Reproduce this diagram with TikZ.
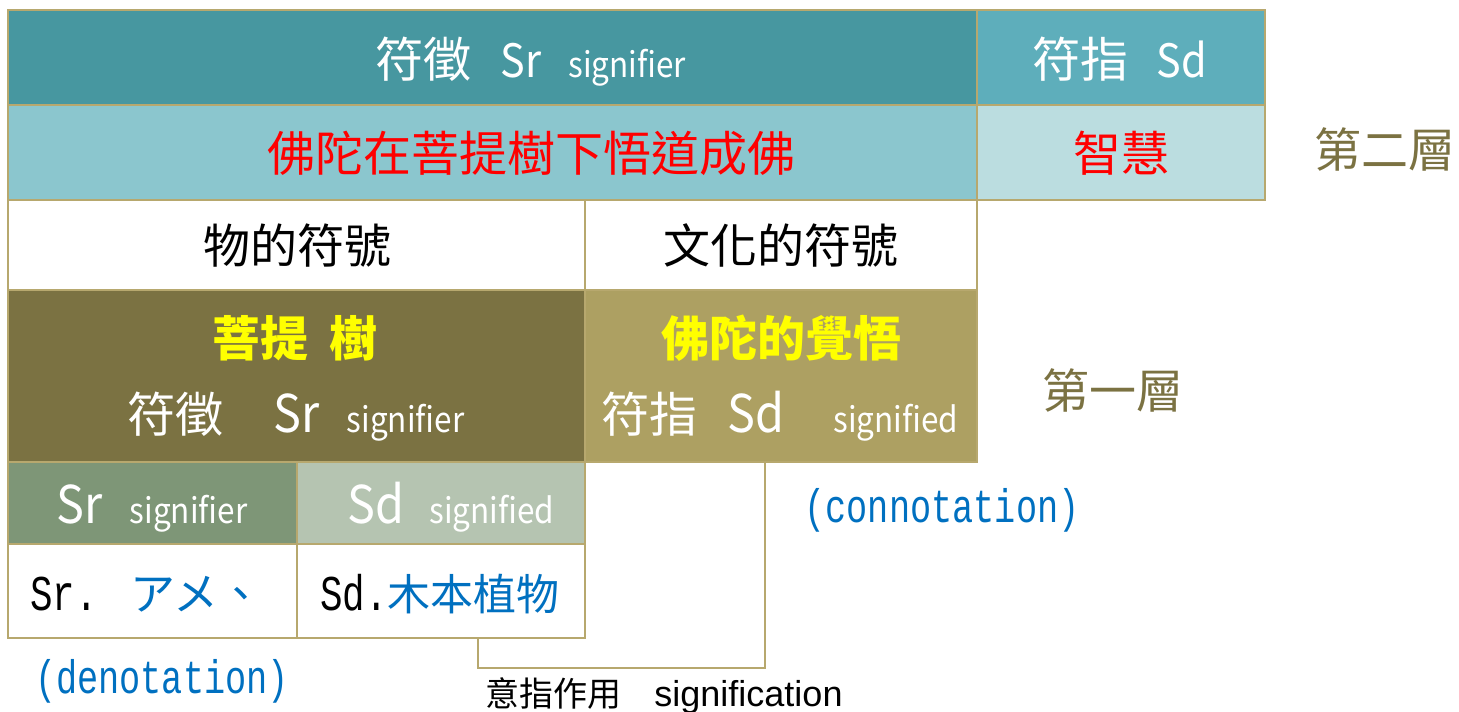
\documentclass[tikz,border=0pt]{standalone}
\usepackage{fontspec}
\usepackage{graphicx}
\setmainfont{Noto Sans CJK TC}
\newfontfamily\monof{Liberation Mono}
\newfontfamily\arialf{Liberation Sans}
\newcommand\fs[1]{\fontsize{#1}{#1}\selectfont}
\newcommand\mn[2]{\scalebox{0.75}[1]{\monof\fs{#1}#2}}
\newcommand\nl[2]{\scalebox{0.9}[1]{\fs{#1}#2}}
\definecolor{tealA}{HTML}{4797A0}
\definecolor{tealB}{HTML}{5EAEBB}
\definecolor{ltA}{HTML}{8BC6CE}
\definecolor{ltB}{HTML}{BBDDE0}
\definecolor{oliveA}{HTML}{7B7242}
\definecolor{oliveB}{HTML}{ADA062}
\definecolor{sageA}{HTML}{7E9677}
\definecolor{sageB}{HTML}{B5C4B1}
\definecolor{edge}{HTML}{B7A86E}
\definecolor{bluet}{HTML}{0070C0}
\definecolor{yel}{HTML}{FFFF00}
\tikzset{
  cell/.style={draw=edge, line width=2pt, anchor=north west, inner sep=0pt, outer sep=0pt},
  txt/.style={anchor=base, inner sep=0pt, outer sep=0pt},
  brk/.style={draw=edge, line width=2.5pt}
}
\begin{document}
\begin{tikzpicture}[x=1pt,y=-1pt]
\useasboundingbox (0,0) rectangle (1459,712);
% row 1
\node[cell, fill=tealA, minimum width=969pt, minimum height=95pt] (r1a) at (8,10) {};
\node[cell, fill=tealB, minimum width=288pt, minimum height=95pt] (r1b) at (977,10) {};
% row 2
\node[cell, fill=ltA, minimum width=969pt, minimum height=95pt] (r2a) at (8,105) {};
\node[cell, fill=ltB, minimum width=288pt, minimum height=95pt] (r2b) at (977,105) {};
% row 3
\node[cell, fill=white, minimum width=577pt, minimum height=90pt] (r3a) at (8,200) {};
\node[cell, fill=white, minimum width=392pt, minimum height=90pt] (r3b) at (585,200) {};
% row 4
\node[cell, fill=oliveA, minimum width=577pt, minimum height=172pt] (r4a) at (8,290) {};
\node[cell, fill=oliveB, minimum width=392pt, minimum height=172pt] (r4b) at (585,290) {};
% row 5
\node[cell, fill=sageA, minimum width=289pt, minimum height=82pt] (r5a) at (8,462) {};
\node[cell, fill=sageB, minimum width=288pt, minimum height=82pt] (r5b) at (297,462) {};
% row 6
\node[cell, fill=white, minimum width=289pt, minimum height=94pt] (r6a) at (8,544) {};
\node[cell, fill=white, minimum width=288pt, minimum height=94pt] (r6b) at (297,544) {};
% bracket
\coordinate (bl) at (478,668);
\coordinate (br) at (765,668);
\draw[brk] (r6b.south -| bl) -- (bl) -- (br) -- (r4b.south -| br);
% texts
\node[txt, text=white] (t1) at (531,77) {{\fs{48}符徵}\hspace{29pt}\nl{46}{Sr}\hspace{27pt}\nl{35}{signifier}};
\node[txt, text=white] (t2) at (1120,77) {{\fs{48}符指}\hspace{28pt}\nl{46}{Sd}};
\node[txt, text=red] (t3) at (531,171) {\fs{48}佛陀在菩提樹下悟道成佛};
\node[txt, text=red] (t4) at (1121,171) {\fs{48}智慧};
\node[txt, text=oliveA] (t5) at (1385,167) {\fs{47}第二層};
\node[txt, text=black] (t6) at (297,263) {\fs{47}物的符號};
\node[txt, text=black] (t7) at (781,263) {\fs{47}文化的符號};
\node[txt, text=yel] (t8) at (295,356) {\bfseries\fs{48}菩提\hspace{22pt}樹};
\node[txt, text=yel] (t10) at (781,356) {\bfseries\fs{48}佛陀的覺悟};
\node[txt, text=white] (t9) at (296,432) {{\fs{48}符徵}\hspace{50pt}\nl{52}{Sr}\hspace{27pt}\nl{35}{signifier}};
\node[txt, text=white] (t11) at (780,432) {{\fs{48}符指}\hspace{30pt}\nl{52}{Sd}\hspace{49pt}\nl{35}{signified}};
\node[txt, text=white] (t12) at (152,523) {\nl{52}{Sr}\hspace{27pt}\nl{35}{signifier}};
\node[txt, text=white] (t13) at (451,523) {\nl{52}{Sd}\hspace{25pt}\nl{35}{signified}};
\node[txt] (t14) at (147,610) {\textcolor{black}{\mn{50}{Sr.}}\hspace{33pt}\textcolor{bluet}{\fs{45}アメ、}};
\node[txt] (t15) at (440,610) {\textcolor{black}{\mn{50}{Sd.}}\textcolor{bluet}{\fs{43}木本植物}};
\node[txt, text=bluet] (t16) at (162,693) {\mn{47}{(denotation)}};
\node[txt, text=bluet] (t17) at (942,522) {\mn{47}{(connotation)}};
\node[txt, text=oliveA] (t18) at (1113,408) {\fs{47}第一層};
\node[txt, text=black] (t19) at (664,706) {{\fs{34}意指作用}\hspace{33pt}{\arialf\fs{36}signification}};
\end{tikzpicture}
\end{document}
